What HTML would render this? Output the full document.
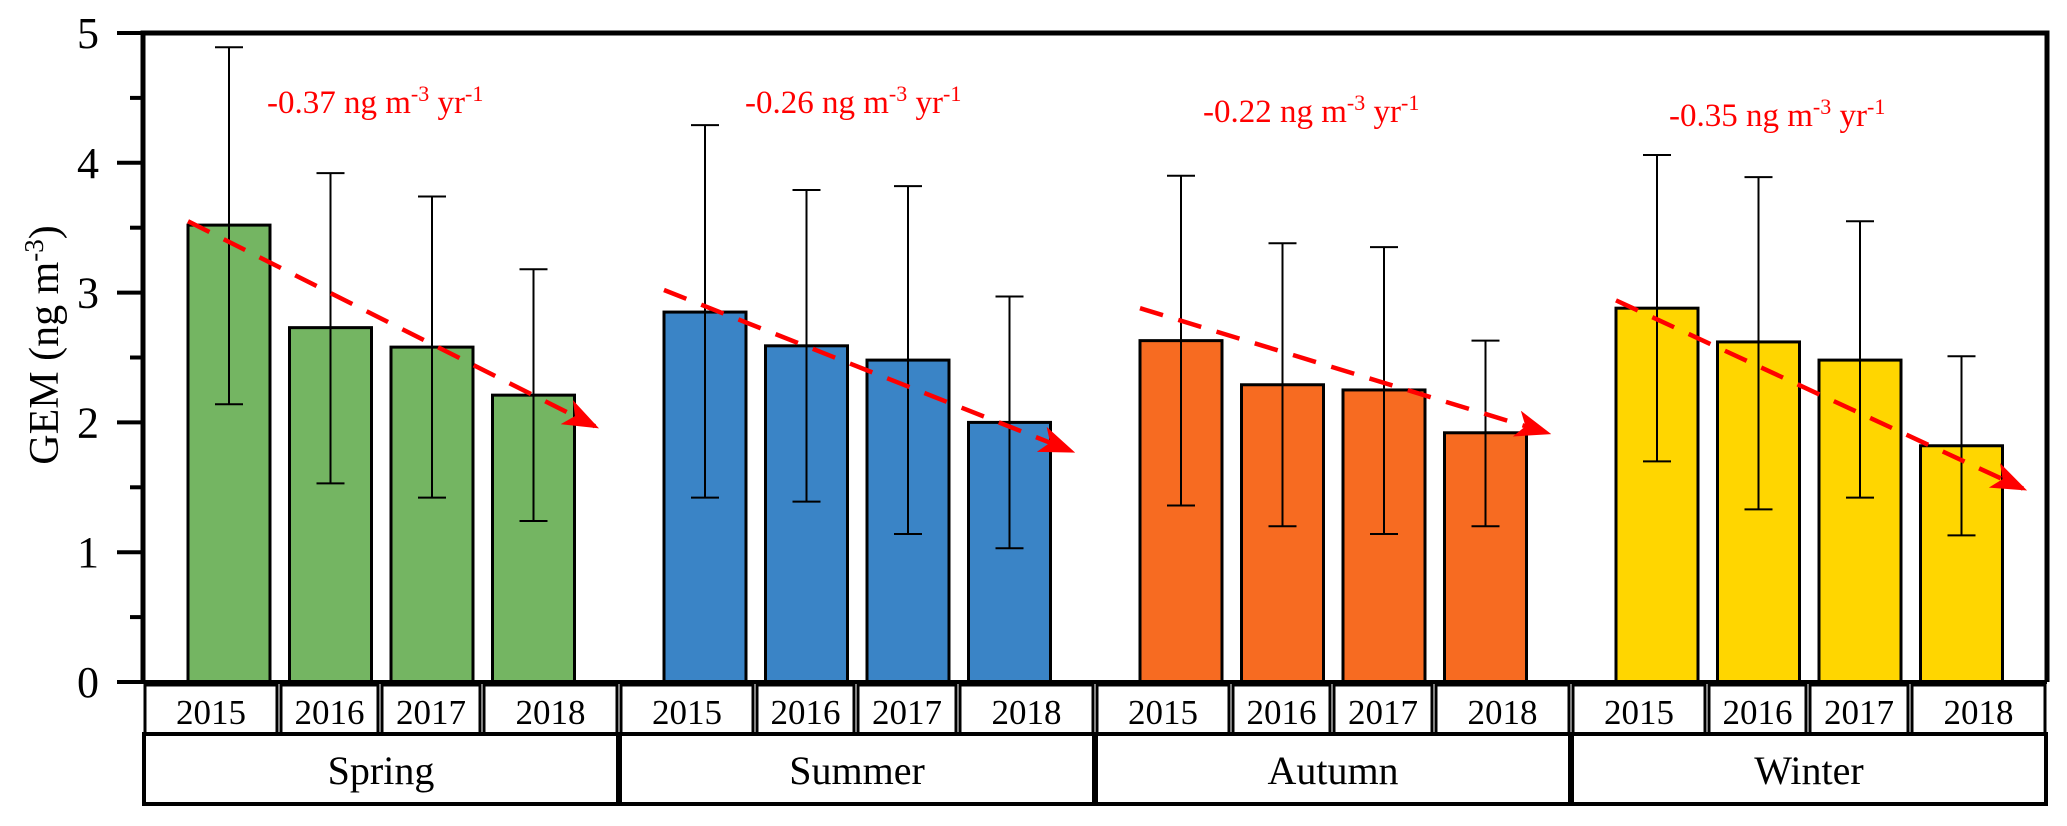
<!DOCTYPE html>
<html><head><meta charset="utf-8"><style>html,body{margin:0;padding:0;background:#fff}svg{display:block}</style></head>
<body>
<svg id="chart" width="2067" height="826" xmlns="http://www.w3.org/2000/svg" font-family="Liberation Serif, serif">
<text transform="translate(58,345) rotate(-90)" text-anchor="middle" font-size="42">GEM (ng m<tspan dy="-15" font-size="27">-3</tspan><tspan dy="15">)</tspan></text>
</svg>
<script>
const seasons = ["Spring","Summer","Autumn","Winter"];
const years = ["2015","2016","2017","2018"];
const means = [[3.52,2.73,2.58,2.21],[2.85,2.59,2.48,2.00],[2.63,2.29,2.25,1.92],[2.88,2.62,2.48,1.82]];
const upper = [[4.89,3.92,3.74,3.18],[4.29,3.79,3.82,2.97],[3.90,3.38,3.35,2.63],[4.06,3.89,3.55,2.51]];
const lower = [[2.14,1.53,1.42,1.24],[1.42,1.39,1.14,1.03],[1.36,1.20,1.14,1.20],[1.70,1.33,1.42,1.13]];
const trendStart = [3.55,3.02,2.88,2.94];
const trendEnd = [1.97,1.78,1.92,1.49];
const trendLabels = ["-0.37","-0.26","-0.22","-0.35"];
const yTicks = [0,1,2,3,4,5];
const colors = ["#74b562","#3a84c6","#f76b21","#ffd600"];

const NS="http://www.w3.org/2000/svg";
const svg=document.getElementById('chart');
const X0=143,X1=2047,Y0=682,YT=33,GW=(X1-X0)/4;
const y=v=>Y0-(v/5)*(Y0-YT);
const barX=(g,i)=>X0+g*GW+86+i*101.5;
function mk(tag,attrs,parent){const e=document.createElementNS(NS,tag);for(const k in attrs)e.setAttribute(k,attrs[k]);(parent||svg).appendChild(e);return e;}
const defs=mk('defs',{});
const mrk=mk('marker',{id:'arr',markerWidth:'8',markerHeight:'6',refX:'7',refY:'3',orient:'auto',markerUnits:'strokeWidth'},defs);
mk('path',{d:'M0,0 L8,3 L0,6 L2,3 Z',fill:'#ff0000'},mrk);

seasons.forEach((s,g)=>{
  years.forEach((yr,i)=>{
    const cx=barX(g,i);
    const b=mk('rect',{x:cx-41,y:y(means[g][i]),width:82,height:Y0-y(means[g][i]),fill:colors[g],stroke:'#000','stroke-width':3});
    
    
    const e=mk('path',{d:`M${cx},${y(upper[g][i])}V${y(lower[g][i])}M${cx-14},${y(upper[g][i])}h28M${cx-14},${y(lower[g][i])}h28`,stroke:'#000','stroke-width':2,fill:'none'});
    
    
  });
  const gx=X0+g*GW;
  const t=mk('line',{x1:gx+45,y1:y(trendStart[g]),x2:gx+452,y2:y(trendEnd[g]),stroke:'#ff0000','stroke-width':4.5,'stroke-dasharray':'24,16','marker-end':'url(#arr)'});
  
  
  const ty=[113,113,122,126][g];
  const lab=mk('text',{x:gx+124+(g==1?2:0)+(g==2?-16:0)+(g==3?-26:0),y:ty,fill:'#ff0000','font-size':33});
  
  
  lab.innerHTML=trendLabels[g]+' ng m<tspan dy="-12" font-size="22">-3</tspan><tspan dy="12"> yr</tspan><tspan dy="-12" font-size="22">-1</tspan>';
  const bounds=[0,136,237,339,GW];
  years.forEach((yr,i)=>{
    const c=mk('rect',{x:gx+bounds[i]+2,y:Y0+3,width:bounds[i+1]-bounds[i]-4,height:49,fill:'#fff',stroke:'#000','stroke-width':3});
    
    
    const tx=mk('text',{x:gx+(bounds[i]+bounds[i+1])/2,y:Y0+42,'text-anchor':'middle','font-size':35});
    
    
    tx.textContent=yr;
  });
  const sc=mk('rect',{x:gx+1,y:734,width:GW-2,height:70,fill:'#fff',stroke:'#000','stroke-width':4});
  
  
  const st=mk('text',{x:gx+GW/2,y:784,'text-anchor':'middle','font-size':40});
  
  
  st.textContent=s;
});
const fr=mk('path',{d:`M${X0},${Y0}V${YT}H${X1}V${Y0}`,fill:'none',stroke:'#000','stroke-width':5});


const xa=mk('line',{x1:117,y1:Y0,x2:X1,y2:Y0,stroke:'#000','stroke-width':4});


yTicks.forEach(v=>{
  const tk=mk('line',{x1:117,y1:y(v),x2:X0,y2:y(v),stroke:'#000','stroke-width':4});
  
  
  if(v<5){const m=mk('line',{x1:130,y1:y(v+0.5),x2:X0,y2:y(v+0.5),stroke:'#000','stroke-width':4});
  
  }
  const tl=mk('text',{x:99,y:y(v)+15,'text-anchor':'end','font-size':44});
  
  
  tl.textContent=v;
});
</script>
</body></html>
